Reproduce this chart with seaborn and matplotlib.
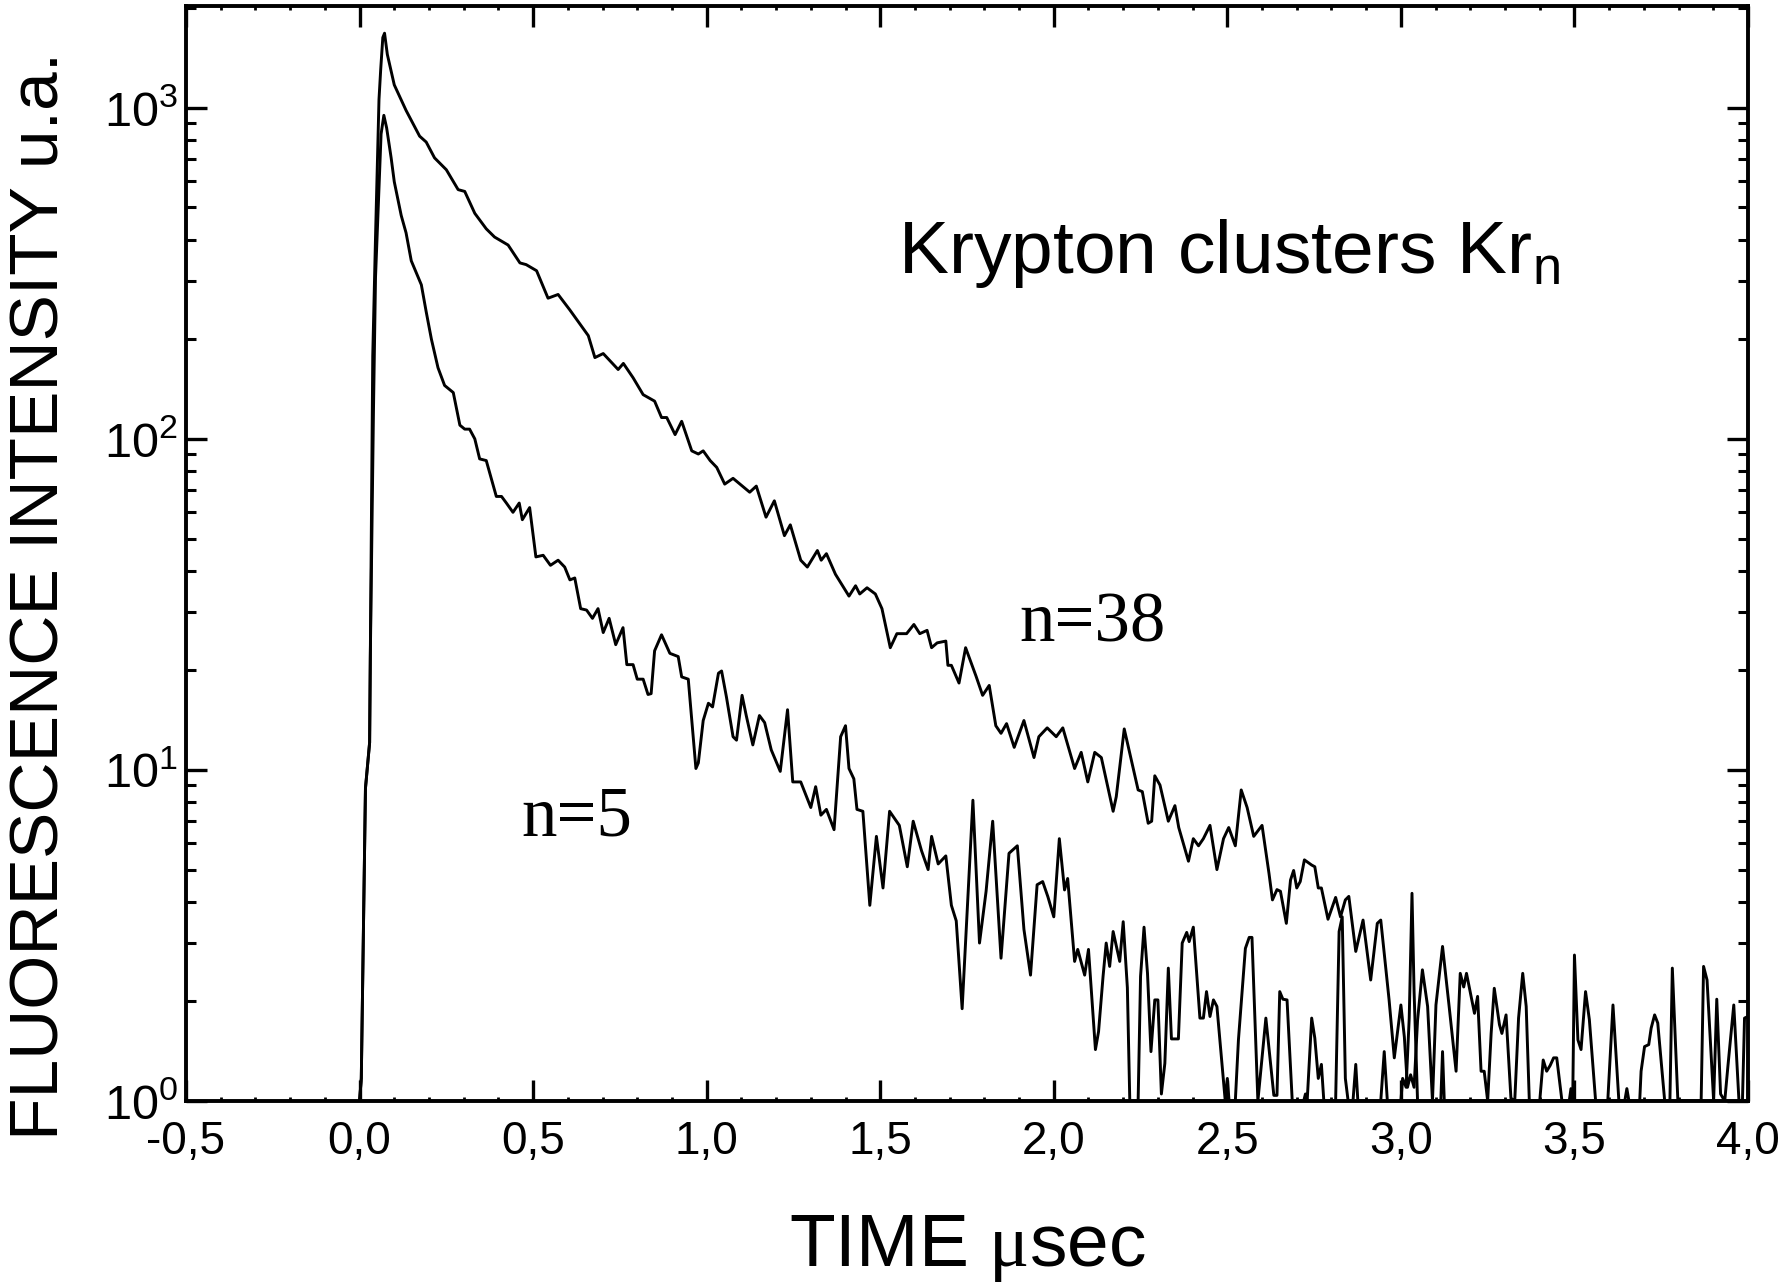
import numpy as np
import pandas as pd
import matplotlib
matplotlib.use("Agg")
import matplotlib.pyplot as plt
from matplotlib.ticker import FixedLocator, FuncFormatter, LogLocator, MultipleLocator
import seaborn as sns

# ---------------- data ----------------
t_n38 = [0.000, 0.005, 0.017, 0.029, 0.031, 0.038, 0.046, 0.056, 0.061, 0.067, 0.072,
         0.080, 0.100, 0.134, 0.173, 0.192, 0.216, 0.250, 0.284, 0.303, 0.332, 0.365,
         0.389, 0.428, 0.462, 0.480, 0.510, 0.543, 0.572, 0.606, 0.659, 0.678, 0.702,
         0.745, 0.760, 0.788, 0.817, 0.850, 0.870, 0.885, 0.909, 0.928, 0.957, 0.976,
         0.990, 1.010, 1.029, 1.052, 1.076, 1.124, 1.143, 1.171, 1.195, 1.224, 1.241,
         1.271, 1.290, 1.319, 1.330, 1.345, 1.371, 1.410, 1.429, 1.441, 1.462, 1.486,
         1.505, 1.529, 1.548, 1.576, 1.597, 1.614, 1.635, 1.648, 1.664, 1.689, 1.695,
         1.705, 1.727, 1.746, 1.776, 1.795, 1.814, 1.833, 1.848, 1.864, 1.886, 1.914,
         1.943, 1.957, 1.981, 2.007, 2.026, 2.060, 2.079, 2.098, 2.118, 2.137, 2.171,
         2.180, 2.203, 2.243, 2.255, 2.272, 2.282, 2.291, 2.306, 2.330, 2.349, 2.360,
         2.388, 2.402, 2.417, 2.431, 2.450, 2.470, 2.489, 2.504, 2.523, 2.540, 2.557,
         2.576, 2.600, 2.620, 2.630, 2.643, 2.653, 2.670, 2.682, 2.691, 2.700, 2.710,
         2.722, 2.743, 2.752, 2.762, 2.771, 2.790, 2.812, 2.826, 2.840, 2.850, 2.870,
         2.891, 2.913, 2.932, 2.942, 2.966, 2.981, 3.000, 3.010, 3.019, 3.028, 3.038,
         3.048, 3.062, 3.077, 3.091, 3.101, 3.120, 3.139, 3.159, 3.171, 3.181, 3.189,
         3.212, 3.221, 3.231, 3.240, 3.250, 3.260, 3.269, 3.284, 3.291, 3.303, 3.317,
         3.328, 3.339, 3.351, 3.361, 3.370, 3.400, 3.410, 3.420, 3.430, 3.440, 3.449,
         3.464, 3.495, 3.500, 3.510, 3.519, 3.532, 3.543, 3.561, 3.596, 3.611, 3.628,
         3.688, 3.692, 3.702, 3.714, 3.721, 3.731, 3.740, 3.760, 3.775, 3.782, 3.798,
         3.865, 3.872, 3.882, 3.901, 3.910, 3.921, 3.933, 3.942, 3.959, 3.974, 3.984,
         3.990, 4.000]
i_n38 = [1.0, 1.17, 8.8, 12.1, 22, 178, 408, 1060, 1310, 1630, 1680,
         1450, 1173, 982, 821, 788, 706, 650, 566, 559, 480, 431,
         407, 385, 340, 336, 322, 266, 273, 245, 205, 176, 181,
         162, 169, 153, 136, 130, 116, 116, 103, 113, 92, 90,
         92, 86, 82, 73, 76, 69, 72, 58, 65, 51, 55,
         43, 41, 46, 43, 45, 39, 33.5, 36, 34, 35.5, 34,
         30.7, 23.4, 25.8, 25.8, 27.5, 25.8, 26.4, 23.4, 24.2, 24.5, 20.7,
         20.7, 18.3, 23.4, 19.2, 16.8, 18.0, 13.6, 12.9, 13.8, 11.7, 14.1,
         10.9, 12.6, 13.4, 12.6, 13.4, 10.1, 11.3, 9.2, 11.3, 10.9, 7.5,
         8.3, 13.3, 8.7, 8.6, 6.9, 7.0, 9.6, 9.0, 7.0, 7.8, 6.7,
         5.3, 6.2, 5.9, 6.2, 6.8, 5.0, 6.2, 6.7, 5.9, 8.7, 7.7,
         6.3, 6.8, 4.87, 4.05, 4.35, 4.3, 3.44, 4.65, 4.97, 4.4, 4.6,
         5.35, 5.16, 5.1, 4.4, 4.4, 3.54, 4.12, 3.6, 4.05, 4.15, 2.83,
         3.52, 2.32, 3.44, 3.52, 2.02, 1.35, 1.95, 1.56, 1.1, 1.2, 1.1,
         1.75, 2.49, 1.93, 1.0, 1.95, 2.93, 1.93, 1.23, 2.43, 2.21, 2.43,
         1.84, 2.07, 1.23, 1.23, 1.0, 1.6, 2.19, 1.7, 1.6, 1.82, 1.02,
         1.0, 1.78, 2.43, 1.93, 1.0, 1.0, 1.33, 1.23, 1.28, 1.35, 1.35,
         1.0, 1.0, 2.76, 1.53, 1.43, 2.14, 1.76, 1.0, 1.0, 1.95, 1.0,
         1.0, 1.23, 1.46, 1.48, 1.66, 1.82, 1.72, 1.0, 1.0, 2.52, 1.0,
         1.0, 2.55, 2.32, 1.0, 2.03, 1.05, 1.0, 1.27, 1.95, 1.0, 1.0,
         1.78, 1.8]

t_n5 = [0.000, 0.005, 0.017, 0.029, 0.031, 0.040, 0.046, 0.062, 0.070, 0.078, 0.091,
        0.100, 0.120, 0.134, 0.149, 0.178, 0.192, 0.207, 0.226, 0.245, 0.270, 0.289,
        0.303, 0.317, 0.332, 0.346, 0.365, 0.394, 0.409, 0.423, 0.442, 0.460, 0.469,
        0.490, 0.508, 0.529, 0.550, 0.572, 0.591, 0.606, 0.620, 0.637, 0.654, 0.671,
        0.687, 0.702, 0.719, 0.738, 0.759, 0.770, 0.788, 0.800, 0.817, 0.831, 0.840,
        0.850, 0.870, 0.894, 0.918, 0.928, 0.947, 0.969, 0.976, 0.990, 1.005, 1.017,
        1.034, 1.043, 1.057, 1.076, 1.086, 1.102, 1.114, 1.133, 1.152, 1.167, 1.186,
        1.212, 1.233, 1.248, 1.271, 1.300, 1.314, 1.329, 1.345, 1.367, 1.386, 1.400,
        1.410, 1.424, 1.433, 1.450, 1.470, 1.489, 1.508, 1.527, 1.555, 1.578, 1.595,
        1.619, 1.638, 1.648, 1.667, 1.689, 1.705, 1.719, 1.736, 1.767, 1.786, 1.805,
        1.824, 1.848, 1.871, 1.895, 1.914, 1.933, 1.952, 1.968, 1.983, 2.000, 2.016,
        2.031, 2.040, 2.060, 2.069, 2.089, 2.100, 2.120, 2.129, 2.142, 2.151, 2.161,
        2.171, 2.190, 2.200, 2.212, 2.219, 2.243, 2.250, 2.260, 2.270, 2.280, 2.291,
        2.300, 2.310, 2.320, 2.330, 2.339, 2.359, 2.370, 2.383, 2.390, 2.402, 2.421,
        2.431, 2.440, 2.450, 2.460, 2.470, 2.494, 2.500, 2.505, 2.523, 2.532, 2.552,
        2.563, 2.571, 2.588, 2.611, 2.634, 2.643, 2.651, 2.660, 2.672, 2.687, 2.720,
        2.725, 2.730, 2.743, 2.752, 2.762, 2.771, 2.778, 2.812, 2.822, 2.831, 2.840,
        2.848, 2.862, 2.870, 2.876, 2.942, 2.952, 2.961, 3.000, 3.005, 3.015, 3.024,
        3.032, 3.038, 3.048, 3.115, 3.120, 3.125, 3.485, 3.490, 3.495, 3.645, 3.651,
        3.657, 4.000]
i_n5 = [1.0, 1.17, 8.8, 12.1, 22, 120, 308, 833, 949, 870, 706,
        598, 473, 419, 345, 292, 242, 200, 164, 145, 138, 110,
        107, 107, 100, 87, 86, 67, 67, 64, 60, 64, 57,
        62, 44, 44.5, 41.5, 43, 41, 37.5, 38, 30.7, 30.4, 28.7,
        30.7, 26, 28.7, 23.9, 26.9, 20.8, 20.8, 18.8, 18.8, 16.9, 17,
        22.9, 25.6, 22.5, 22, 19.1, 18.8, 10.1, 10.5, 14.1, 15.9, 15.5,
        19.6, 19.9, 16.6, 12.6, 12.3, 16.8, 14.6, 11.9, 14.6, 13.9, 11.5,
        9.9, 15.2, 9.2, 9.2, 7.7, 8.9, 7.3, 7.6, 6.6, 12.6, 13.6,
        10.1, 9.4, 7.6, 7.5, 3.9, 6.3, 4.4, 7.5, 6.8, 5.1, 7.0,
        5.7, 5.0, 6.3, 5.2, 5.5, 3.9, 3.5, 1.9, 8.1, 3.0, 4.3,
        7.0, 2.7, 5.6, 5.9, 3.3, 2.4, 4.5, 4.6, 4.14, 3.6, 6.2,
        4.34, 4.7, 2.64, 2.87, 2.4, 2.87, 1.43, 1.62, 2.38, 3.0, 2.55,
        3.25, 2.64, 3.48, 2.2, 1.0, 1.0, 2.38, 3.35, 2.43, 1.41, 2.02,
        2.02, 1.05, 1.3, 2.52, 1.54, 1.54, 3.0, 3.23, 3.03, 3.35, 1.78,
        1.78, 2.14, 1.8, 2.02, 1.93, 1.0, 1.17, 1.0, 1.0, 1.53, 2.89,
        3.12, 3.12, 1.0, 1.78, 1.04, 1.04, 2.14, 2.03, 2.02, 1.0, 1.0,
        1.05, 1.0, 1.78, 1.55, 1.17, 1.29, 1.0, 1.0, 3.25, 3.6, 1.17,
        1.0, 1.0, 1.29, 1.0, 1.0, 1.41, 1.0, 1.0, 1.17, 1.1, 1.78,
        4.24, 2.14, 1.0, 1.0, 1.41, 1.0, 1.0, 1.09, 1.0, 1.0, 1.09,
        1.0, 1.0]

series_names = ["n=38", "n=5"]
x_ticks = [-0.5, 0.0, 0.5, 1.0, 1.5, 2.0, 2.5, 3.0, 3.5, 4.0]
y_ticks = [1, 10, 100, 1000]
x_label = "TIME $\\mathsf{\\mu}$sec"
y_label = "FLUORESCENCE INTENSITY u.a."
title_text = "Krypton clusters Kr$_\\mathregular{n}$"

# ---------------- style ----------------
sns.set_theme(style="ticks")
plt.rcParams["font.family"] = ["Liberation Sans", "DejaVu Sans"]
plt.rcParams["mathtext.fontset"] = "custom"
plt.rcParams["mathtext.rm"] = "Liberation Sans"
plt.rcParams["mathtext.it"] = "Liberation Sans:italic"
plt.rcParams["mathtext.bf"] = "Liberation Sans:bold"
plt.rcParams["mathtext.sf"] = "Liberation Serif"
for k in ["text.color", "axes.labelcolor", "xtick.color", "ytick.color", "axes.edgecolor"]:
    plt.rcParams[k] = "black"

df = pd.concat([
    pd.DataFrame({"t": t_n38, "I": i_n38, "series": series_names[0]}),
    pd.DataFrame({"t": t_n5, "I": i_n5, "series": series_names[1]}),
], ignore_index=True)

W, H, DPI = 1789, 1284, 100
fig = plt.figure(figsize=(W / DPI, H / DPI), dpi=DPI)
ax = fig.add_axes([186 / W, 1 - 1101 / H, (1748 - 186) / W, (1101 - 6) / H])

sns.lineplot(data=df, x="t", y="I", hue="series",
             palette={series_names[0]: "black", series_names[1]: "black"},
             estimator=None, sort=False, legend=False, linewidth=2.1, ax=ax)

ax.set_yscale("log")
ax.set_xlim(-0.5, 4.0)
ax.set_ylim(1, 2030)

ax.xaxis.set_major_locator(FixedLocator(x_ticks))
ax.xaxis.set_minor_locator(MultipleLocator(0.1))
ax.xaxis.set_major_formatter(FuncFormatter(lambda v, p: f"{v:.1f}".replace(".", ",")))
ax.yaxis.set_major_locator(FixedLocator(y_ticks))
ax.yaxis.set_minor_locator(LogLocator(base=10, subs=np.arange(2, 10)))
ax.yaxis.set_major_formatter(FuncFormatter(
    lambda v, p: "$\\mathrm{10^{%d}}$" % int(round(np.log10(v)))))

for s in ax.spines.values():
    s.set_linewidth(2.8)
    s.set_color("black")

ax.tick_params(which="both", direction="in", top=True, right=True, color="black",
               labelcolor="black")
ax.tick_params(axis="both", which="major", length=15, width=2.4)
ax.tick_params(axis="x", which="minor", length=3, width=2.0)
ax.tick_params(axis="y", which="minor", length=7.5, width=2.2)
ax.tick_params(axis="x", which="major", labelsize=33, pad=14)
ax.tick_params(axis="y", which="major", labelsize=35, pad=6)

ax.set_xlabel("")
ax.set_ylabel("")
fig.text(967 / W, 1 - 1266 / H, x_label, fontsize=54, ha="center", va="baseline", color="black")
fig.text(41 / W, 1 - 596 / H, y_label, fontsize=50, rotation=90, ha="center", va="center",
         color="black")

ax.text(1.552, 318, title_text, fontsize=54, ha="left", va="baseline", color="black")
ax.text(1.90, 24.5, series_names[0], fontsize=51, family="Liberation Serif",
        ha="left", va="baseline", color="black")
ax.text(0.467, 6.34, series_names[1], fontsize=51, family="Liberation Serif",
        ha="left", va="baseline", color="black")

fig.savefig("out.png", dpi=DPI, facecolor="white")
